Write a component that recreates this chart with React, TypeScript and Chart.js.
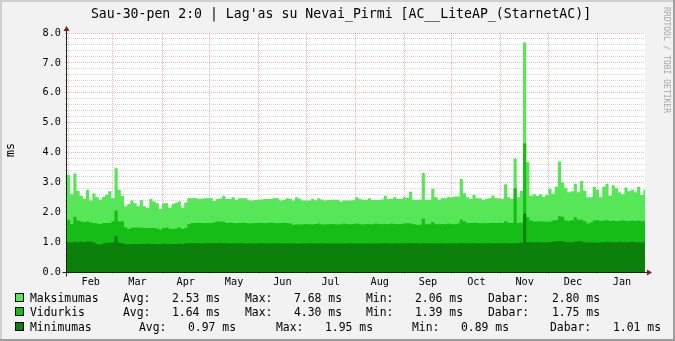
import React, { useEffect, useRef } from 'react';
import { Chart, registerables } from 'chart.js';

Chart.register(...registerables);

// ---- data (2-day bins, day 1 = start of window, Jan 30/31) ----
const BIN_DAYS = 2;
const START_DAY = 1;
const END_DAY = 366;

const maxValues = [
  3.25, 2.6, 3.3, 2.72, 2.55, 2.45, 2.75, 2.39, 2.63, 2.5,
  2.42, 2.52, 2.58, 2.7, 2.47, 3.47, 2.75, 2.55, 2.2, 2.28,
  2.39, 2.3, 2.2, 2.4, 2.2, 2.14, 2.44, 2.36, 2.3, 2.11,
  2.3, 2.3, 2.15, 2.28, 2.32, 2.36, 2.15, 2.33, 2.47, 2.47,
  2.48, 2.44, 2.45, 2.47, 2.47, 2.48, 2.38, 2.44, 2.46, 2.55,
  2.44, 2.44, 2.5, 2.42, 2.47, 2.47, 2.47, 2.4, 2.39, 2.41,
  2.42, 2.43, 2.44, 2.44, 2.44, 2.48, 2.47, 2.39, 2.42, 2.47,
  2.45, 2.39, 2.5, 2.45, 2.39, 2.39, 2.39, 2.45, 2.4, 2.47,
  2.43, 2.39, 2.41, 2.42, 2.42, 2.42, 2.36, 2.39, 2.39, 2.39,
  2.4, 2.5, 2.44, 2.42, 2.42, 2.47, 2.41, 2.41, 2.41, 2.43,
  2.55, 2.44, 2.44, 2.5, 2.44, 2.44, 2.5, 2.48, 2.69, 2.42,
  2.42, 2.42, 3.31, 2.42, 2.42, 2.78, 2.5, 2.42, 2.47, 2.47,
  2.5, 2.5, 2.53, 2.53, 3.11, 2.64, 2.5, 2.44, 2.58, 2.47,
  2.47, 2.42, 2.45, 2.47, 2.56, 2.47, 2.47, 2.44, 2.94, 2.5,
  2.44, 3.8, 2.5, 2.72, 7.68, 3.67, 2.55, 2.6, 2.55, 2.6,
  2.52, 2.58, 2.78, 2.62, 2.85, 3.7, 3.0, 2.8, 2.67, 2.7,
  2.95, 2.67, 3.05, 2.72, 2.5, 2.5, 2.85, 2.75, 2.5, 2.85,
  2.95, 2.56, 2.9, 2.8, 2.67, 2.6, 2.83, 2.7, 2.75, 2.67,
  2.85, 2.58, 2.75,
];

const avgValues = [
  1.75, 1.61, 1.85, 1.72, 1.69, 1.67, 1.69, 1.66, 1.64, 1.62,
  1.61, 1.64, 1.64, 1.64, 1.7, 2.06, 1.69, 1.7, 1.5, 1.44,
  1.48, 1.49, 1.49, 1.48, 1.47, 1.47, 1.47, 1.47, 1.46, 1.42,
  1.47, 1.49, 1.46, 1.44, 1.46, 1.49, 1.44, 1.47, 1.6, 1.64,
  1.64, 1.65, 1.64, 1.63, 1.64, 1.64, 1.66, 1.69, 1.69, 1.68,
  1.64, 1.65, 1.64, 1.63, 1.64, 1.65, 1.64, 1.62, 1.63, 1.64,
  1.65, 1.64, 1.63, 1.64, 1.66, 1.64, 1.63, 1.64, 1.65, 1.64,
  1.62, 1.58, 1.6, 1.59, 1.6, 1.61, 1.6, 1.59, 1.61, 1.62,
  1.6, 1.59, 1.6, 1.61, 1.6, 1.59, 1.6, 1.62, 1.61, 1.6,
  1.61, 1.62, 1.6, 1.59, 1.61, 1.6, 1.6, 1.62, 1.61, 1.6,
  1.61, 1.6, 1.62, 1.61, 1.6, 1.61, 1.62, 1.63, 1.62, 1.6,
  1.58, 1.58, 1.78, 1.6, 1.6, 1.67, 1.61, 1.6, 1.61, 1.6,
  1.62, 1.61, 1.6, 1.62, 1.76, 1.69, 1.64, 1.64, 1.65, 1.64,
  1.63, 1.64, 1.63, 1.64, 1.65, 1.64, 1.65, 1.64, 1.7, 1.64,
  1.64, 2.8, 1.64, 1.66, 4.3, 1.83, 1.72, 1.69, 1.69, 1.7,
  1.69, 1.68, 1.69, 1.72, 1.74, 1.87, 1.85, 1.72, 1.71, 1.73,
  1.83, 1.75, 1.75, 1.7, 1.62, 1.66, 1.72, 1.73, 1.71, 1.72,
  1.73, 1.71, 1.72, 1.7, 1.71, 1.72, 1.71, 1.7, 1.72, 1.71,
  1.72, 1.7, 1.71,
];

const minValues = [
  1.0, 1.0, 1.02, 1.0, 1.01, 1.0, 1.02, 1.02, 1.0, 0.93,
  0.92, 0.95, 0.98, 0.98, 0.99, 1.2, 0.98, 0.96, 0.93, 0.93,
  0.94, 0.94, 0.93, 0.94, 0.94, 0.95, 0.94, 0.94, 0.93, 0.94,
  0.95, 0.94, 0.93, 0.94, 0.94, 0.95, 0.94,
  0.95, 0.96, 0.96, 0.97, 0.96, 0.95, 0.96, 0.96, 0.97, 0.96,
  0.97, 0.98, 0.96, 0.96, 0.95, 0.96, 0.96, 0.97, 0.96, 0.95,
  0.96, 0.96, 0.95, 0.96, 0.97, 0.96, 0.96, 0.95, 0.96, 0.96,
  0.96, 0.95, 0.96, 0.96, 0.95, 0.95, 0.95, 0.96, 0.95, 0.96,
  0.96, 0.95, 0.95, 0.96, 0.95, 0.95, 0.96, 0.95, 0.95, 0.96,
  0.95, 0.95, 0.96, 0.95, 0.95, 0.96, 0.95, 0.95, 0.95, 0.96,
  0.95, 0.95, 0.96, 0.97, 0.95, 0.95, 0.96, 0.95, 0.96, 0.96,
  0.96, 0.97, 0.96, 0.96, 0.95, 0.97, 0.96, 0.96, 0.96, 0.95,
  0.96, 0.96, 0.95, 0.96, 0.96, 0.96, 0.95, 0.97, 0.96, 0.96,
  0.96, 0.97, 0.96, 0.96, 0.96, 0.96, 0.97, 0.96, 0.96, 0.96,
  0.97, 0.97, 0.96, 0.96, 0.97, 0.97, 0.98,
  1.95,
  1.0, 1.0, 0.99, 1.0, 1.0, 0.99, 1.0, 1.0, 1.01, 1.03,
  1.04, 1.03, 1.0, 1.0, 1.0, 1.02, 1.03, 1.02, 1.0, 0.99,
  1.0, 0.99, 0.98, 1.0, 1.0, 1.01, 1.0, 1.0, 1.0, 1.01,
  1.0, 1.0, 1.0, 1.01, 1.0, 1.0, 1.0, 1.01,
];

const monthNames = ['Feb', 'Mar', 'Apr', 'May', 'Jun', 'Jul', 'Aug', 'Sep', 'Oct', 'Nov', 'Dec', 'Jan'];
const monthStartDays = [2, 30, 61, 91, 122, 152, 183, 214, 244, 275, 305, 336];
const monthLengths = [28, 31, 30, 31, 30, 31, 31, 30, 31, 30, 31, 31];

const Y_MIN = 0;
const Y_MAX = 8;
const Y_MINOR_STEP = 0.2;

const titleText = "Sau-30-pen 2:0 | Lag'as su Nevai_Pirmi [AC__LiteAP_(StarnetAC)]";
const unitLabel = 'ms';
const watermark = 'RRDTOOL / TOBI OETIKER';

const seriesNames = ['Maksimumas', 'Vidurkis', 'Minimumas'];
const statLabels = ['Avg:', 'Max:', 'Min:', 'Dabar:'];
const maxStats = ['2.53', '7.68', '2.06', '2.80'];
const avgStats = ['1.64', '4.30', '1.39', '1.75'];
const minStats = ['0.97', '1.95', '0.89', '1.01'];
const statUnit = 'ms';

// ---- styles ----
const MAX_COLOR = '#57e657';
const AVG_COLOR = '#14be14';
const MIN_COLOR = '#0b810b';
const GRID = 'rgba(160,150,150,0.4)';
const MGRID = 'rgba(222,79,79,0.42)';
const AXIS = '#1f1f1f';
const ARROW = '#801f1f';
const MONO = '"DejaVu Sans Mono", monospace';

export default function App() {
  const ref = useRef<HTMLCanvasElement>(null);

  useEffect(() => {
    document.body.style.margin = '0';
    const canvas = ref.current!;
    const toPoints = (vals: number[]) => {
      const pts = vals.map((v, i) => ({ x: START_DAY + i * BIN_DAYS, y: v }));
      pts.push({ x: END_DAY, y: vals[vals.length - 1] });
      return pts;
    };
    const boundarySet = new Set(monthStartDays);
    const midDays = monthStartDays.map((d, i) => d + monthLengths[i] / 2);
    const labelAt = new Map<number, string>(midDays.map((d, i) => [d, monthNames[i]]));
    const xTickValues = [...monthStartDays, ...midDays].sort((a, b) => a - b);
    const yTickValues: number[] = [];
    const nY = Math.round((Y_MAX - Y_MIN) / Y_MINOR_STEP);
    for (let i = 0; i <= nY; i++) yTickValues.push(Y_MIN + i * Y_MINOR_STEP);
    const isMajor = (v: number) => Math.abs(v - Math.round(v)) < 1e-6;

    const framePlugin = {
      id: 'rrdFrame',
      beforeDraw(chart: any) {
        const { ctx, chartArea: a } = chart;
        ctx.save();
        ctx.fillStyle = '#ffffff';
        ctx.fillRect(a.left, a.top, a.right - a.left, a.bottom - a.top);
        ctx.restore();
      },
      afterDraw(chart: any) {
        const { ctx, chartArea: a } = chart;
        const x0 = Math.round(a.left) - 0.5;
        const y0 = Math.round(a.bottom) + 0.5;
        const x1 = Math.round(a.right);
        const yt = Math.round(a.top);
        ctx.save();
        ctx.strokeStyle = AXIS;
        ctx.lineWidth = 1;
        ctx.beginPath();
        ctx.moveTo(x0 - 4, y0);
        ctx.lineTo(x1 + 4, y0);
        ctx.moveTo(x0, y0 + 4);
        ctx.lineTo(x0, yt - 4);
        ctx.stroke();
        ctx.fillStyle = ARROW;
        ctx.beginPath();
        ctx.moveTo(x1 + 2, y0 - 3);
        ctx.lineTo(x1 + 2, y0 + 3);
        ctx.lineTo(x1 + 7, y0);
        ctx.closePath();
        ctx.fill();
        ctx.beginPath();
        ctx.moveTo(x0 - 3, yt - 2);
        ctx.lineTo(x0 + 3, yt - 2);
        ctx.lineTo(x0, yt - 7);
        ctx.closePath();
        ctx.fill();
        ctx.restore();
      },
    };

    const ds = (label: string, vals: number[], color: string) => ({
      label,
      data: toPoints(vals),
      backgroundColor: color,
      borderColor: 'transparent',
      borderWidth: 0,
      fill: 'origin',
      stepped: true,
      pointRadius: 0,
      pointHoverRadius: 0,
    });

    const chart = new Chart(canvas, {
      type: 'line',
      data: {
        datasets: [
          ds(seriesNames[2], minValues, MIN_COLOR),
          ds(seriesNames[1], avgValues, AVG_COLOR),
          ds(seriesNames[0], maxValues, MAX_COLOR),
        ] as any,
      },
      options: {
        animation: false,
        responsive: false,
        devicePixelRatio: 1,
        events: [],
        layout: { padding: { top: 33, right: 30, left: 0, bottom: 0 } },
        plugins: {
          legend: { display: false },
          tooltip: { enabled: false },
          title: { display: false },
        },
        scales: {
          x: {
            type: 'linear',
            min: START_DAY,
            max: END_DAY,
            z: 1,
            afterBuildTicks: (s: any) => {
              s.ticks = xTickValues.map((v) => ({ value: v }));
            },
            afterFit: (s: any) => {
              s.height = 69;
            },
            ticks: {
              autoSkip: false,
              maxRotation: 0,
              minRotation: 0,
              padding: 2,
              color: '#000',
              font: { family: MONO, size: 10.2 },
              callback: (v: any) => labelAt.get(Number(v)) ?? '',
            },
            grid: {
              color: (c: any) => (c.tick && boundarySet.has(c.tick.value) ? MGRID : 'transparent'),
              lineWidth: 1,
              tickLength: 2,
              drawTicks: true,
            },
            border: { display: false, dash: [1, 1] },
          },
          y: {
            type: 'linear',
            min: Y_MIN,
            max: Y_MAX,
            z: 1,
            afterBuildTicks: (s: any) => {
              s.ticks = yTickValues.map((v) => ({ value: v }));
            },
            afterFit: (s: any) => {
              s.width = 67;
            },
            ticks: {
              autoSkip: false,
              padding: 4,
              color: '#000',
              font: { family: MONO, size: 10.2 },
              callback: (v: any) => (isMajor(Number(v)) ? Number(v).toFixed(1) : ''),
            },
            grid: {
              color: (c: any) => (c.tick && isMajor(c.tick.value) ? MGRID : GRID),
              lineWidth: 1,
              tickLength: 2,
              drawTicks: true,
            },
            border: { display: false, dash: [1, 1] },
          },
        },
      } as any,
      plugins: [framePlugin],
    });
    return () => chart.destroy();
  }, []);

  const rows = [
    { name: seriesNames[0], color: MAX_COLOR, stats: maxStats, cy: 298, xs: [123, 172, 245, 294, 366, 415, 488, 552] },
    { name: seriesNames[1], color: AVG_COLOR, stats: avgStats, cy: 312, xs: [123, 172, 245, 294, 366, 415, 488, 552] },
    { name: seriesNames[2], color: MIN_COLOR, stats: minStats, cy: 327, xs: [139, 188, 276, 325, 412, 461, 550, 613] },
  ];

  const textBase: React.CSSProperties = {
    position: 'absolute',
    fontFamily: MONO,
    color: '#000',
    whiteSpace: 'pre',
    lineHeight: '14px',
    height: 14,
  };

  return (
    <div style={{ position: 'relative', width: 675, height: 341, background: '#f2f2f2', overflow: 'hidden' }}>
      <canvas ref={ref} width={675} height={341} style={{ position: 'absolute', left: 0, top: 0, width: 675, height: 341 }} />
      <div style={{ position: 'absolute', left: 0, top: 0, width: 675, height: 2, background: '#cfcfcf' }} />
      <div style={{ position: 'absolute', left: 0, top: 0, width: 2, height: 341, background: '#cfcfcf' }} />
      <div style={{ position: 'absolute', left: 673, top: 0, width: 2, height: 341, background: '#9e9e9e' }} />
      <div style={{ position: 'absolute', left: 0, top: 339, width: 675, height: 2, background: '#9e9e9e' }} />
      <div style={{ ...textBase, left: 0, width: 682, top: 6, fontSize: 13.2, lineHeight: '15px', height: 15, textAlign: 'center' }}>{titleText}</div>
      <div style={{ ...textBase, left: 10, top: 150, fontSize: 11.6, transform: 'translate(-50%, -50%) rotate(-90deg)' }}>{unitLabel}</div>
      <div style={{ ...textBase, left: 666, top: 60, fontSize: 8, color: '#a8a8a8', lineHeight: '10px', height: 10, transform: 'translate(-50%, -50%) rotate(90deg)' }}>{watermark}</div>
      {rows.map((r, ri) => (
        <React.Fragment key={ri}>
          <div style={{ position: 'absolute', left: 15, top: r.cy - 5, width: 7, height: 7, background: r.color, border: '1px solid #000' }} />
          <div style={{ ...textBase, left: 30, top: r.cy - 7, fontSize: 11.4 }}>{r.name}</div>
          {statLabels.map((sl, si) => (
            <React.Fragment key={si}>
              <div style={{ ...textBase, left: r.xs[si * 2], top: r.cy - 7, fontSize: 11.4 }}>{sl}</div>
              <div style={{ ...textBase, left: r.xs[si * 2 + 1], top: r.cy - 7, fontSize: 11.4 }}>{`${r.stats[si]} ${statUnit}`}</div>
            </React.Fragment>
          ))}
        </React.Fragment>
      ))}
    </div>
  );
}
